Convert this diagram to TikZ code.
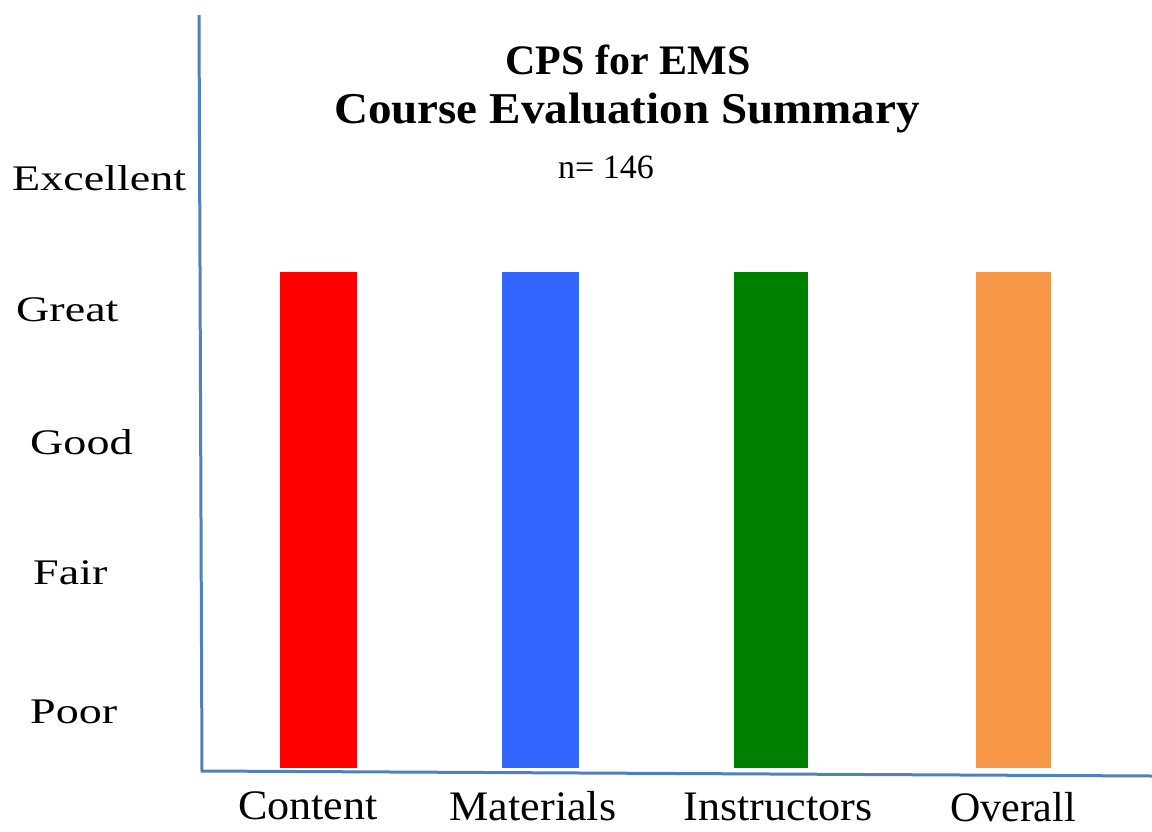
\documentclass[tikz,border=0pt]{standalone}
\usepackage{fontspec}
\setmainfont{Liberation Serif}
\definecolor{axisblue}{HTML}{4F81BD}
\definecolor{barred}{HTML}{FF0000}
\definecolor{barblue}{HTML}{3366FF}
\definecolor{bargreen}{HTML}{008000}
\definecolor{barorange}{HTML}{F79646}
\begin{document}
\begin{tikzpicture}[x=1pt,y=-1pt,
  ylab/.style={anchor=west,inner sep=0pt,font=\fontsize{36}{40}\selectfont},
  xlab/.style={anchor=center,inner sep=0pt,font=\fontsize{42}{46}\selectfont},
  axisline/.style={draw=axisblue,line width=3pt,line join=miter}]
\useasboundingbox (0,0) rectangle (1152,831);
\fill[white] (0,0) rectangle (1152,831);
% title
\node[inner sep=0pt,font=\fontsize{42}{46}\selectfont\bfseries] (t1) at (628,60) {\scalebox{1.0}[1]{CPS for EMS}};
\node[inner sep=0pt,font=\fontsize{44}{48}\selectfont\bfseries] (t2) at (627,113) {\scalebox{1.07}[1]{Course Evaluation Summary}};
\node[inner sep=0pt,font=\fontsize{34}{38}\selectfont] (n) at (606,167) {n= 146};
% y labels
\node[ylab] (exc) at (12,178) {\scalebox{1.28}[1]{Excellent}};
\node[ylab] (gre) at (16,310) {\scalebox{1.28}[1]{Great}};
\node[ylab] (goo) at (30,442) {\scalebox{1.28}[1]{Good}};
\node[ylab] (fai) at (33,573) {\scalebox{1.28}[1]{Fair}};
\node[ylab] (poo) at (30,712) {\scalebox{1.28}[1]{Poor}};
% bars
\fill[barred] (280,272) rectangle (357,768);
\fill[barblue] (502,272) rectangle (579,768);
\fill[bargreen] (734,272) rectangle (808,768);
\fill[barorange] (976,272) rectangle (1051,768);
% axes
\coordinate (ytop) at (199,15);
\coordinate (orig) at (202,771);
\coordinate (xend) at (1152,776);
\draw[axisline] (ytop) -- (orig) -- (xend);
% x labels
\node[xlab] (c1) at (308,806) {\scalebox{1.05}[1]{Content}};
\node[xlab] (c2) at (533,806) {\scalebox{1.05}[1]{Materials}};
\node[xlab] (c3) at (778,807) {\scalebox{1.05}[1]{Instructors}};
\node[xlab] (c4) at (1013,807) {\scalebox{1.0}[1]{Overall}};
\end{tikzpicture}
\end{document}
